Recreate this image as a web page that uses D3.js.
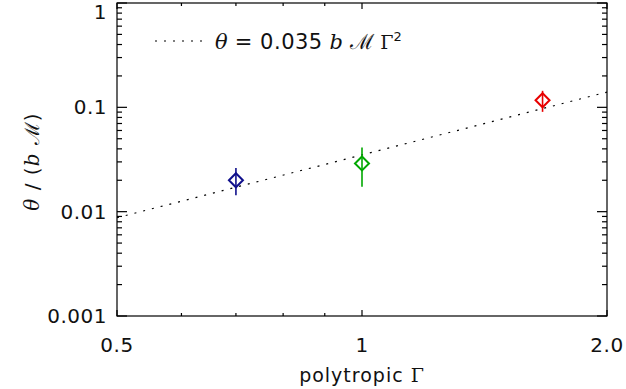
<!DOCTYPE html>
<html>
<head>
<meta charset="utf-8">
<script src="https://cdn.jsdelivr.net/npm/d3@7"></script>
<style>
  html, body { margin: 0; padding: 0; background: #fff; }
  svg { display: block; }
  text { font-family: "DejaVu Sans", "Liberation Sans", Arial, sans-serif; fill: #111; }
</style>
</head>
<body>
<svg id="chart" width="626" height="389"></svg>
<script>
// Measured θ/(bℳ) for three polytropic indices, with error bars
const gammaValues = [0.7, 1.0, 5 / 3];
const thetaValues = [0.020, 0.029, 0.117];
const thetaLow    = [0.0144, 0.0173, 0.0905];
const thetaHigh   = [0.0262, 0.0413, 0.144];
const pointColors = ["#10108c", "#00a800", "#e80000"];

// Fit: θ = 0.035 b ℳ Γ²
const fitCoefficient = 0.035;
const fitGammaRange = [0.5, 2.0];

// Tick values and labels
const xMajorTicks = [0.5, 1, 2];
const xMajorLabels = ["0.5", "1", "2.0"];
const xMinorTicks = [0.6, 0.7, 0.8, 0.9];
const yMajorTicks = [0.001, 0.01, 0.1, 1];
const yMajorLabels = ["0.001", "0.01", "0.1", "1"];

const svg = d3.select("#chart");
const plot = { left: 117, right: 607, top: 3, bottom: 316 };

const x = d3.scaleLog().base(2).domain([0.5, 2]).range([plot.left, plot.right]);
const y = d3.scaleLog().domain([0.001, 1]).range([plot.bottom, plot.top]);

// y minor ticks: 2..9 in each decade
const yMinorTicks = [];
for (let d = 0.001; d < 0.9; d *= 10) {
  for (let k = 2; k <= 9; k++) yMinorTicks.push(d * k);
}

const g = svg.append("g");

// Frame
g.append("rect")
  .attr("x", plot.left).attr("y", plot.top)
  .attr("width", plot.right - plot.left).attr("height", plot.bottom - plot.top)
  .attr("fill", "none").attr("stroke", "#000").attr("stroke-width", 1.2);

const yMajLen = 10, yMinLen = 5, xMajLen = 6, xMinLen = 3;
const tickG = g.append("g").attr("stroke", "#000").attr("stroke-width", 1.2);

// y ticks on left and right
[[yMajorTicks, yMajLen], [yMinorTicks, yMinLen]].forEach(([vals, len]) => {
  vals.forEach(v => {
    const yy = y(v);
    tickG.append("line").attr("x1", plot.left).attr("x2", plot.left + len).attr("y1", yy).attr("y2", yy);
    tickG.append("line").attr("x1", plot.right).attr("x2", plot.right - len).attr("y1", yy).attr("y2", yy);
  });
});
// x ticks on bottom and top
[[xMajorTicks, xMajLen], [xMinorTicks, xMinLen]].forEach(([vals, len]) => {
  vals.forEach(v => {
    const xx = x(v);
    tickG.append("line").attr("x1", xx).attr("x2", xx).attr("y1", plot.bottom).attr("y2", plot.bottom - len);
    tickG.append("line").attr("x1", xx).attr("x2", xx).attr("y1", plot.top).attr("y2", plot.top + len);
  });
});

// Tick labels
const tickFont = 20;
g.append("g").selectAll("text").data(yMajorTicks).join("text")
  .attr("x", plot.left - 10).attr("y", d => Math.max(y(d) + 7, 19))
  .attr("text-anchor", "end").attr("font-size", tickFont).attr("letter-spacing", 0.5)
  .text((d, i) => yMajorLabels[i]);

g.append("g").selectAll("text").data(xMajorTicks).join("text")
  .attr("x", d => x(d)).attr("y", 352)
  .attr("text-anchor", "middle").attr("font-size", tickFont).attr("letter-spacing", 0.5)
  .text((d, i) => xMajorLabels[i]);

// Axis titles
const xt = g.append("text").attr("x", x(1)).attr("y", 382)
  .attr("text-anchor", "middle").attr("font-size", 19).attr("letter-spacing", 1);
xt.append("tspan").text("polytropic ");
xt.append("tspan").attr("font-family", "DejaVu Serif, serif").attr("font-size", 19).text("Γ");

const yt = g.append("text")
  .attr("transform", `translate(39, ${(plot.top + plot.bottom) / 2 + 2}) rotate(-90)`)
  .attr("text-anchor", "middle").attr("font-size", 20).attr("letter-spacing", 1);
yt.append("tspan").attr("font-style", "italic").attr("font-family", "DejaVu Serif, serif").text("θ");
yt.append("tspan").text(" / (");
yt.append("tspan").attr("font-style", "italic").attr("font-family", "DejaVu Serif, serif").text("b");
yt.append("tspan").attr("font-family", "DejaVu Serif, serif").text(" ℳ");
yt.append("tspan").text(")");

// Fit line (dotted)
const fitLine = d3.line().x(d => x(d)).y(d => y(fitCoefficient * d * d));
svg.append("clipPath").attr("id", "plotClip").append("rect")
  .attr("x", plot.left).attr("y", plot.top)
  .attr("width", plot.right - plot.left).attr("height", plot.bottom - plot.top);
g.append("path").datum(fitGammaRange)
  .attr("clip-path", "url(#plotClip)")
  .attr("d", fitLine).attr("fill", "none").attr("stroke", "#000")
  .attr("stroke-width", 1.2).attr("stroke-dasharray", "2,7");

// Data points: error bars and diamonds
const pts = gammaValues.map((gv, i) => ({ g: gv, v: thetaValues[i], lo: thetaLow[i], hi: thetaHigh[i], c: pointColors[i] }));
const pg = g.append("g");
pg.selectAll("line.err").data(pts).join("line").attr("class", "err")
  .attr("x1", d => x(d.g)).attr("x2", d => x(d.g))
  .attr("y1", d => y(d.lo)).attr("y2", d => y(d.hi))
  .attr("stroke", d => d.c).attr("stroke-width", 1.6);
const r = 7;
pg.selectAll("path.dia").data(pts).join("path").attr("class", "dia")
  .attr("d", d => {
    const cx = x(d.g), cy = y(d.v);
    return `M${cx},${cy - r}L${cx + r},${cy}L${cx},${cy + r}L${cx - r},${cy}Z`;
  })
  .attr("fill", "none").attr("stroke", d => d.c).attr("stroke-width", 2);

// Legend
const lg = g.append("g");
lg.append("line").attr("x1", 155).attr("x2", 205).attr("y1", 41).attr("y2", 41)
  .attr("stroke", "#000").attr("stroke-width", 1.2).attr("stroke-dasharray", "2,7");
const lt = lg.append("text").attr("x", 215).attr("y", 49).attr("font-size", 21);
lt.append("tspan").attr("font-style", "italic").attr("font-family", "DejaVu Serif, serif").text("θ");
lt.append("tspan").attr("letter-spacing", 0.5).text(" = 0.035");
lt.append("tspan").attr("font-style", "italic").attr("font-family", "DejaVu Serif, serif").text(" b");
lt.append("tspan").attr("font-family", "DejaVu Serif, serif").text(" ℳ ");
lt.append("tspan").attr("font-family", "DejaVu Serif, serif").attr("font-size", 19).text("Γ");
lt.append("tspan").attr("font-size", 13).attr("dy", -8).text("2");
</script>
</body>
</html>
